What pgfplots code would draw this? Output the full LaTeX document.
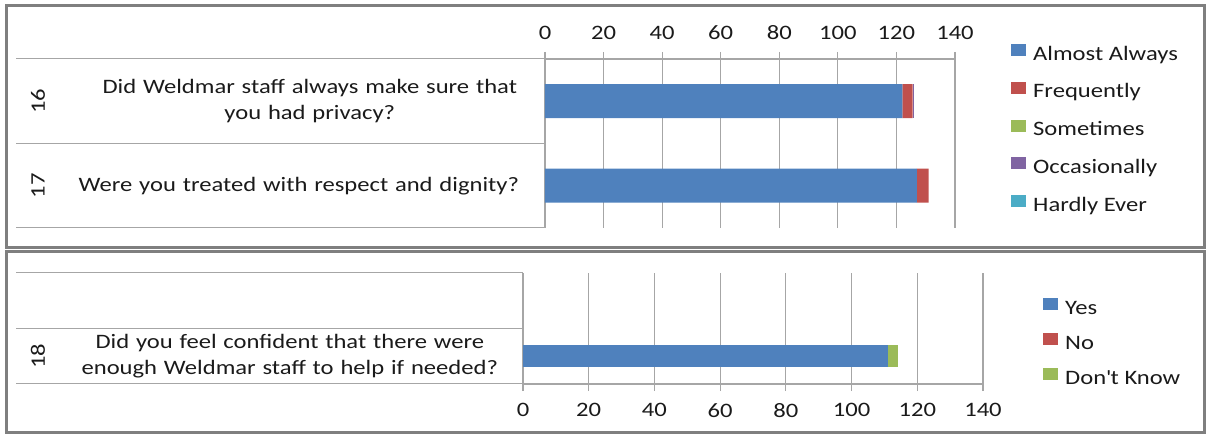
\documentclass[border=0pt]{standalone}
\usepackage{fontspec}
\setmainfont{Carlito}[FakeStretch=1.2]
\usepackage{pgfplots}
\pgfplotsset{compat=1.18}

\definecolor{xlBlue}{HTML}{4F81BD}
\definecolor{xlRed}{HTML}{C0504D}
\definecolor{xlGreen}{HTML}{9BBB59}
\definecolor{xlPurple}{HTML}{8064A2}
\definecolor{xlCyan}{HTML}{4BACC6}
\definecolor{gridCol}{HTML}{A6A6A6}
\definecolor{frameCol}{HTML}{7F7F7F}
\definecolor{txt}{HTML}{1A1A1A}

\tikzset{
  seg/.style={fill=#1, draw=none},
  rule/.style={gridCol, line width=1pt},
}

\pgfplotsset{
  qbar/.style={
    xbar stacked, scale only axis, clip=false,
    xmin=0, xmax=140, xtick={0,20,...,140},
    ymin=-0.5, ymax=1.5,
    xmajorgrids, grid style={gridCol, line width=1.2pt},
    axis y line*=left,
    axis line style={gridCol, line width=1.2pt},
    tick align=outside, major tick length=7pt,
    xtick style={gridCol, line width=1.2pt},
    ytick style={draw=none},
    tick label style={txt},
    xticklabel style={inner sep=0pt},
    yticklabel style={text width=460pt, align=center, inner sep=0pt},
    /pgf/number format/assume math mode=true,
    legend cell align=left,
    legend image code/.code={\path[##1] (0pt,-0.5pt) rectangle (15pt,11.5pt);},
    legend style={draw=none, fill=none, inner sep=0pt, anchor=north west,
      column sep=7pt, text=txt,
      nodes={inner sep=0pt, text height=13pt, text depth=4pt}},
  },
}

\begin{document}
\fontsize{20.5}{26}\selectfont
\begin{tikzpicture}
\useasboundingbox (0pt,0pt) rectangle (1208pt,434pt);
% chart frames
\draw[frameCol, line width=3pt] (6pt,428pt) rectangle (1204pt,186pt);
\draw[frameCol, line width=3pt] (6pt,182pt) rectangle (1204pt,2pt);

% questions 16 and 17: five-point frequency scale
\begin{axis}[qbar,
  at={(545pt,206pt)}, anchor=south west,
  width=410pt, height=169pt,
  axis x line*=top, bar width=34pt,
  ytick={0,1},
  yticklabels={{Were you treated with respect and dignity?},
               {\hspace*{22pt}Did Weldmar staff always make sure that\\\hspace*{22pt}you had privacy?}},
  yticklabel style={xshift=-9pt},
  xticklabel style={yshift=12pt},
  legend style={at={(axis description cs:1.1366,1.0887)}, row sep=17.7pt},
]
\addplot[seg=xlBlue]   coordinates {(127,0) (122,1)};
\addplot[seg=xlRed]    coordinates {(4,0) (3.5,1)};
\addplot[seg=xlGreen]  coordinates {(0,0) (0,1)};
\addplot[seg=xlPurple] coordinates {(0,0) (0.5,1)};
\addplot[seg=xlCyan]   coordinates {(0,0) (0,1)};
\legend{Almost Always, Frequently, Sometimes, Occasionally, Hardly Ever}
% category table rules and question numbers
\draw[rule] (axis cs:0,-0.5) -- ++(-529pt,0pt);
\draw[rule] (axis cs:0,0.5) -- ++(-529pt,0pt);
\draw[rule] (axis cs:0,1.5) -- ++(-529pt,0pt);
\node[rotate=90, txt] at ([xshift=-507pt]axis cs:0,1) {16};
\node[rotate=90, txt] at ([xshift=-507pt]axis cs:0,0) {17};
\end{axis}

% question 18: yes / no scale
\begin{axis}[qbar,
  at={(523pt,50pt)}, anchor=south west,
  width=460pt, height=111pt,
  axis x line*=bottom, bar width=22pt,
  ytick={0},
  yticklabels={{Did you feel confident that there were\\enough Weldmar staff to help if needed?}},
  yticklabel style={xshift=4pt},
  xticklabel style={yshift=-12pt},
  legend style={at={(axis description cs:1.1304,0.7748)}, row sep=15pt},
]
\addplot[seg=xlBlue]  coordinates {(111,0)};
\addplot[seg=xlRed]   coordinates {(0,0)};
\addplot[seg=xlGreen] coordinates {(3,0)};
\legend{Yes, No, Don\textquotesingle t Know}
\draw[rule] (axis cs:0,-0.5) -- ++(-507pt,0pt);
\draw[rule] (axis cs:0,0.5) -- ++(-507pt,0pt);
\draw[rule] (axis cs:0,1.5) -- ++(-507pt,0pt);
\node[rotate=90, txt] at ([xshift=-485pt]axis cs:0,0) {18};
\end{axis}
\end{tikzpicture}
\end{document}
